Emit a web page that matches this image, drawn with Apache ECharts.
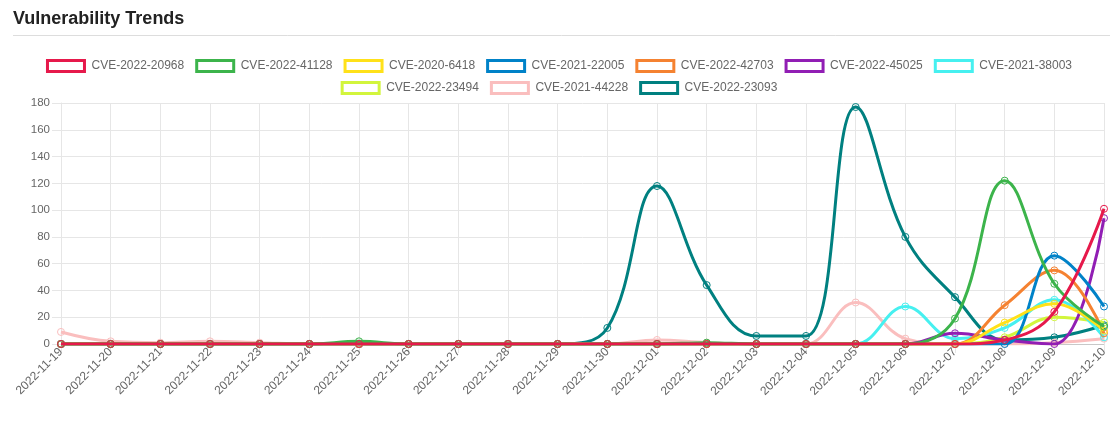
<!DOCTYPE html>
<html>
<head>
<meta charset="utf-8">
<script src="https://cdn.jsdelivr.net/npm/echarts@6/dist/echarts.min.js"></script>
<style>
html,body{margin:0;padding:0;background:#fff;}
#chart{width:1118px;height:428px;}
</style>
</head>
<body>
<div id="chart"></div>
<script>
const dates = ["2022-11-19","2022-11-20","2022-11-21","2022-11-22","2022-11-23","2022-11-24","2022-11-25","2022-11-26","2022-11-27","2022-11-28","2022-11-29","2022-11-30","2022-12-01","2022-12-02","2022-12-03","2022-12-04","2022-12-05","2022-12-06","2022-12-07","2022-12-08","2022-12-09","2022-12-10"];
const yTicks = [0,20,40,60,80,100,120,140,160,180];

const cve_2022_20968 = [0,0,0,0,0,0,0,0,0,0,0,0,0,0,0,0,0,0,0,3,24,101];
const cve_2022_41128 = [0,0,0,0,0,0,2,0,0,0,0,0,0,1,0,0,0,0,19,122,45,13];
const cve_2020_6418  = [0,0,0,0,0,0,0,0,0,0,0,0,0,0,0,0,0,0,0,16,30,10];
const cve_2021_22005 = [0,0,0,0,0,0,0,0,0,0,0,0,0,0,0,0,0,0,0,0,66,28];
const cve_2022_42703 = [0,0,0,0,0,0,0,0,0,0,0,0,0,0,0,0,0,0,0,29,55,8];
const cve_2022_45025 = [0,0,0,0,0,0,0,0,0,0,0,0,0,0,0,0,0,0,8,3,0,94];
const cve_2021_38003 = [0,0,0,0,0,0,0,0,0,0,0,0,0,0,0,0,0,28,4,12,33,5];
const cve_2022_23494 = [0,0,0,0,0,0,0,0,0,0,0,0,0,0,0,0,0,0,0,5,20,16];
const cve_2021_44228 = [9,2,1,2,1,0,0,0,0,0,0,0,3,1,0,0,31,4,0,0,1,4];
const cve_2022_23093 = [0,0,0,0,0,0,0,0,0,0,0,12,118,44,6,6,177,80,35,3,5,14];

const seriesNames = ["CVE-2022-20968","CVE-2022-41128","CVE-2020-6418","CVE-2021-22005","CVE-2022-42703","CVE-2022-45025","CVE-2021-38003","CVE-2022-23494","CVE-2021-44228","CVE-2022-23093"];
const seriesValues = [cve_2022_20968,cve_2022_41128,cve_2020_6418,cve_2021_22005,cve_2022_42703,cve_2022_45025,cve_2021_38003,cve_2022_23494,cve_2021_44228,cve_2022_23093];
const colors = ["#e6194b","#3cb44b","#ffe119","#0082c8","#f58231","#911eb4","#46f0f0","#d2f53c","#fabebe","#008080"];

const FONT = "'Liberation Sans', Arial, Helvetica, sans-serif";
const chart = echarts.init(document.getElementById('chart'), null, {renderer:'canvas'});

const series = seriesNames.map((name, i) => ({
  name: name,
  type: 'line',
  data: seriesValues[i],
  smooth: 0.4,
  z: 20 - i,
  symbol: 'circle',
  symbolSize: 7,
  showSymbol: true,
  lineStyle: {color: colors[i], width: 3},
  itemStyle: {color: 'rgba(255,255,255,0)', borderColor: colors[i], borderWidth: 1},
  emphasis: {disabled: true}
}));

function legendData(from, to) {
  const out = [];
  for (let i = from; i < to; i++) {
    out.push({name: seriesNames[i], itemStyle: {color: '#ffffff', borderColor: colors[i], borderWidth: 3}});
  }
  return out;
}
const legendCommon = {
  orient: 'horizontal',
  icon: 'rect',
  itemWidth: 37,
  itemHeight: 11,
  itemGap: 11,
  padding: 0,
  selectedMode: false,
  textStyle: {fontFamily: FONT, fontSize: 12, color: '#666', padding: [0, 0, 0, 2]}
};

chart.setOption({
  animation: false,
  backgroundColor: '#fff',
  title: {
    text: 'Vulnerability Trends',
    left: 13, top: 10, padding: 0,
    textStyle: {fontFamily: FONT, fontSize: 18, fontWeight: 'bold', color: '#222'}
  },
  graphic: [{
    type: 'line',
    shape: {x1: 13, y1: 35.5, x2: 1110, y2: 35.5},
    style: {stroke: '#dddddd', lineWidth: 1}
  }],
  legend: [
    Object.assign({}, legendCommon, {left: 'center', top: 59, data: legendData(0, 7)}),
    Object.assign({}, legendCommon, {left: 'center', top: 81, data: legendData(7, 10)})
  ],
  grid: {left: 61, right: 14, top: 103, bottom: 84, containLabel: false},
  xAxis: {
    type: 'category',
    data: dates,
    boundaryGap: false,
    axisLine: {show: true, lineStyle: {color: '#c8c8c8', width: 1}},
    axisTick: {show: true, length: 9, lineStyle: {color: '#e6e6e6'}},
    splitLine: {show: true, lineStyle: {color: '#e6e6e6', width: 1}},
    axisLabel: {rotate: 45, fontFamily: FONT, fontSize: 12, color: '#666', margin: 6, interval: 0}
  },
  yAxis: {
    type: 'value',
    min: yTicks[0],
    max: yTicks[yTicks.length - 1],
    interval: yTicks[1] - yTicks[0],
    axisLine: {show: true, lineStyle: {color: '#e6e6e6'}},
    axisTick: {show: true, length: 9, lineStyle: {color: '#e6e6e6'}},
    splitLine: {show: true, lineStyle: {color: '#e6e6e6', width: 1}},
    axisLabel: {fontFamily: FONT, fontSize: 11.5, color: '#666', margin: 11}
  },
  series: series
});
</script>
</body>
</html>
